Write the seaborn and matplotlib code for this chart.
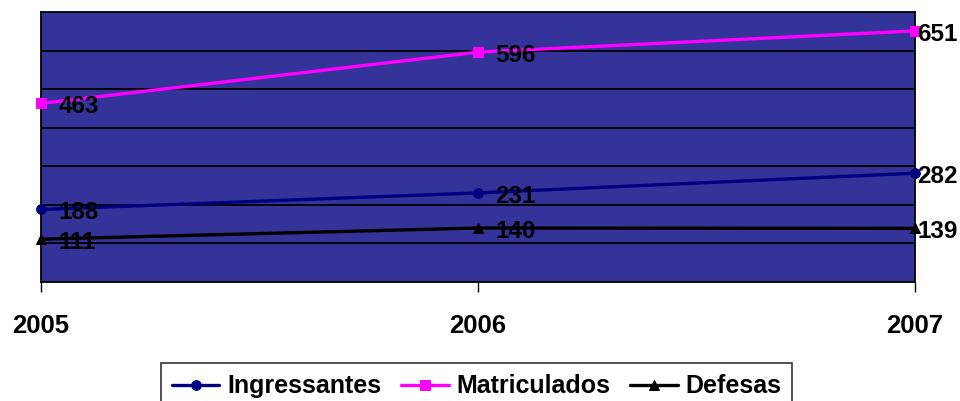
import matplotlib
matplotlib.use("Agg")
import matplotlib.pyplot as plt
import seaborn as sns
import pandas as pd

# Series values per year
years = [2005, 2006, 2007]
ingressantes = [188, 231, 282]
matriculados = [463, 596, 651]
defesas = [111, 140, 139]

series_names = ["Ingressantes", "Matriculados", "Defesas"]
series_values = [ingressantes, matriculados, defesas]
colors = ["#000080", "#FF00FF", "#000000"]
markers = ["o", "s", "^"]

sns.set_theme(style="white")
plt.rcParams["font.family"] = ["Liberation Sans", "DejaVu Sans"]
plt.rcParams["font.weight"] = "bold"
plt.rcParams["text.color"] = "black"
plt.rcParams["xtick.color"] = "black"
plt.rcParams["axes.labelcolor"] = "black"

rows = []
for name, vals in zip(series_names, series_values):
    for y, v in zip(years, vals):
        rows.append({"Ano": y, "Valor": v, "Serie": name})
df = pd.DataFrame(rows)

fig = plt.figure(figsize=(9.6, 4.01), dpi=100)
ax = fig.add_axes([41 / 960, 1 - 282 / 401, (915 - 41) / 960, (282 - 12) / 401])
ax.set_facecolor("#333399")

for name, col, mk in zip(series_names, colors, markers):
    sub = df[df["Serie"] == name]
    sns.lineplot(data=sub, x="Ano", y="Valor", ax=ax, color=col, marker=mk,
                 markersize=7, markeredgecolor=col, linewidth=2.4,
                 label=name, clip_on=False, zorder=3)
    for i, (x, v) in enumerate(zip(sub["Ano"], sub["Valor"])):
        dx = 1.5 if i == len(years) - 1 else 12.5
        ax.annotate(str(v), (x, v), xytext=(dx, -2.5), textcoords="offset points",
                    ha="left", va="center", fontsize=17.5, fontweight="bold",
                    color="black", annotation_clip=False, zorder=4)

ax.set_xlim(years[0], years[-1])
ax.set_ylim(0, 700)
ax.set_yticks(range(0, 701, 100))
ax.yaxis.grid(True, color="black", linewidth=1.3)
ax.xaxis.grid(False)
ax.set_yticklabels([])
ax.tick_params(axis="y", length=0)
ax.set_xticks(years)
ax.set_xticklabels([str(y) for y in years], fontsize=18.5, fontweight="bold",
                   color="black")
ax.tick_params(axis="x", direction="out", length=7, width=1, color="black",
               pad=16, bottom=True)
ax.set_xlabel("")
ax.set_ylabel("")
for s in ax.spines.values():
    s.set_color("black")
    s.set_linewidth(1.3)

ax.get_legend().remove()
handles, labels = ax.get_legend_handles_labels()
leg = fig.legend(handles, labels, loc="upper center",
                 bbox_to_anchor=(476.5 / 960, 1 - 363 / 401), ncol=3,
                 frameon=True, fancybox=False, edgecolor="black",
                 prop={"size": 18, "weight": "bold"}, handlelength=1.9,
                 handletextpad=0.3, columnspacing=0.8, borderpad=0.45,
                 borderaxespad=0)
leg.get_frame().set_linewidth(1.2)
for t in leg.get_texts():
    t.set_color("black")

fig.savefig("out.png", dpi=100, facecolor="white")
